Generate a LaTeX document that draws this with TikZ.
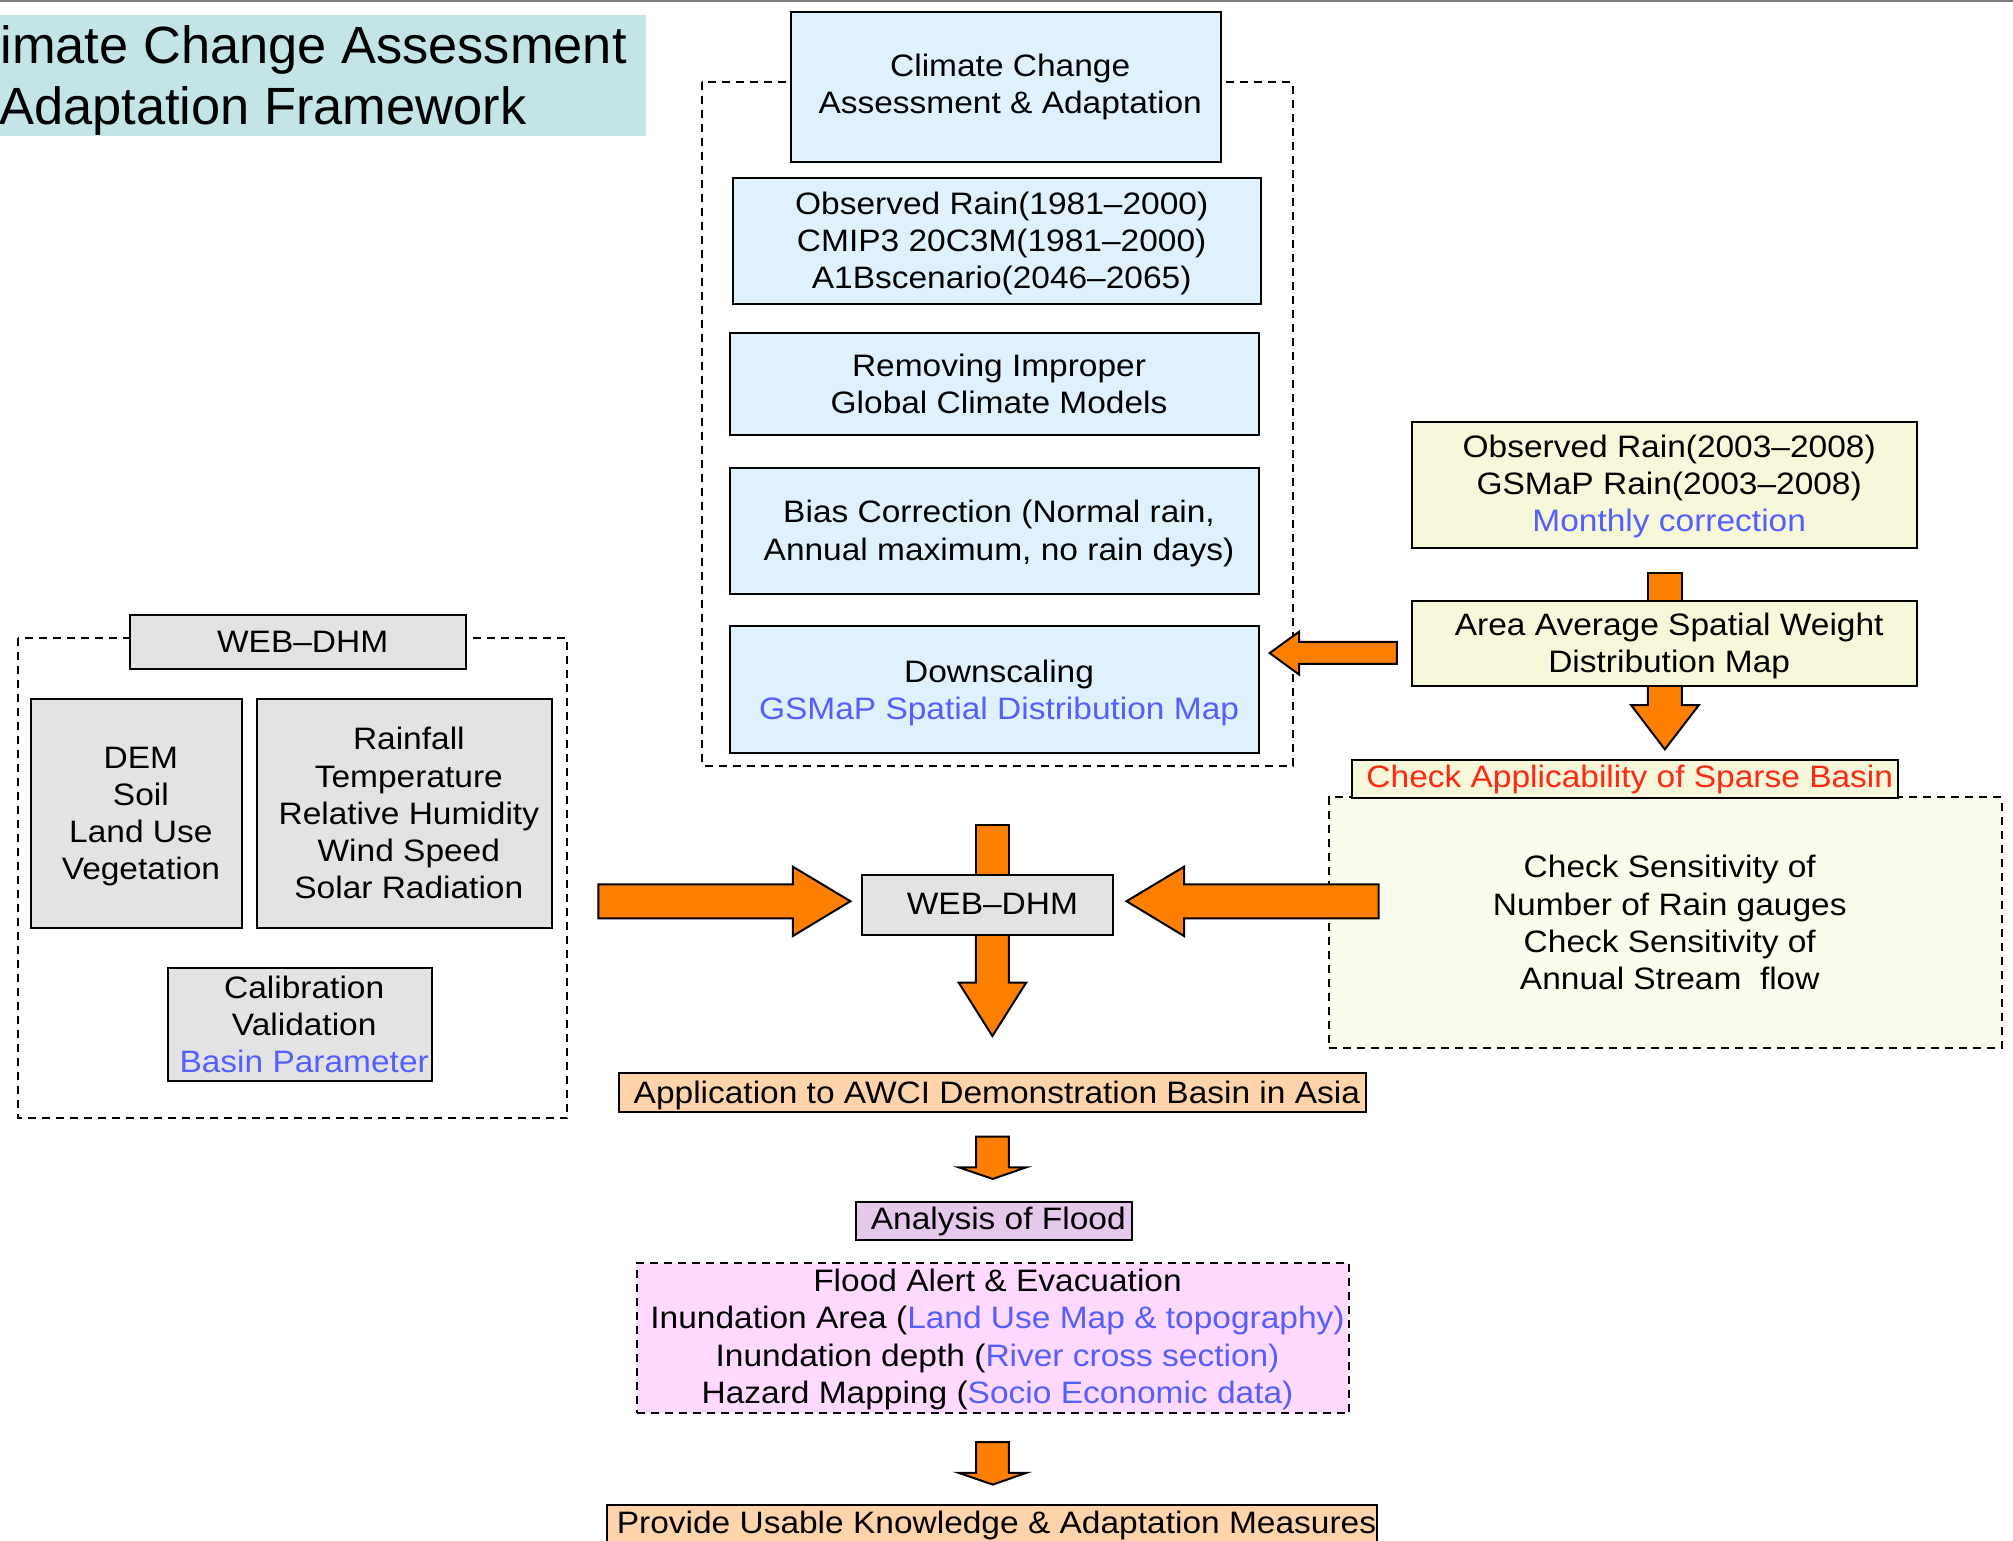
\documentclass[tikz,border=0pt]{standalone}
\usepackage{fontspec}
\setmainfont[FakeStretch=1.08]{Liberation Sans}
\newfontfamily\titlefont{Liberation Sans}
\definecolor{titlebg}{RGB}{196,229,232}
\definecolor{bluebox}{RGB}{223,241,252}
\definecolor{yellowbox}{RGB}{247,247,217}
\definecolor{paleyellow}{RGB}{252,252,236}
\definecolor{graybox}{RGB}{227,227,227}
\definecolor{orangeA}{RGB}{255,128,0}
\definecolor{peach}{RGB}{255,212,170}
\definecolor{lavender}{RGB}{230,200,236}
\definecolor{pinkbox}{RGB}{255,217,255}
\definecolor{bluetext}{RGB}{85,95,255}
\definecolor{redtext}{RGB}{255,40,20}
\newcommand\uu{0.6419pt}
\newcommand\bodyfont{\fontsize{15.5}{18.6}\selectfont}
\tikzset{
  bx/.style={draw=black, line width=1pt, inner sep=0pt},
  tx/.style={inner sep=0pt, align=center, font=\bodyfont, xshift=3.5*\uu},
  dashframe/.style={draw=black, line width=1pt, dash pattern=on 4pt off 3pt},
  blockarrow/.style={fill=orangeA, draw=black, line width=1pt, line join=miter},
}
\begin{document}
\begin{tikzpicture}[x=0.6419pt,y=-0.6419pt]
\useasboundingbox (0,0) rectangle (1568,1200);
\clip (0,0) rectangle (1568,1200);
\fill[white] (0,0) rectangle (1568,1200);
\draw[gray, line width=1.2pt] (0,1) -- (1568,1);

% title
\fill[titlebg] (0,11.7) rectangle (503,105.7);
\node[anchor=base east, inner sep=0pt, font=\titlefont\fontsize{26.2}{30}\selectfont] (t1) at (488.5,49.3) {imate Change Assessment};
\node[anchor=base east, inner sep=0pt, font=\titlefont\fontsize{26.2}{30}\selectfont] (t2) at (410.3,96.6) {Adaptation Framework};

% dashed frames
\draw[dashframe] (547,64.1) rectangle (1007.1,596.4);
\draw[dashframe] (14,497.2) rectangle (442,871.1);
\node[bx, dashframe, fill=paleyellow, minimum width=524.1*\uu, minimum height=195*\uu] (sens) at (1297.15,718.6) {};
\node[tx] (sens-t) at (sens) {Check Sensitivity of\\Number of Rain gauges\\Check Sensitivity of\\Annual Stream\ \ flow};

% block arrows
\draw[blockarrow] (1088,500) -- (1012,500) -- (1012,492) -- (989,508.7) -- (1012,525.5) -- (1012,517.2) -- (1088,517.2) -- cycle;
\draw[blockarrow] (1283.6,446) rectangle (1310,469);
\draw[blockarrow] (1283.6,533) -- (1283.6,549.2) -- (1270.5,549.2) -- (1296.8,583.7) -- (1323.3,549.2) -- (1310,549.2) -- (1310,533) -- cycle;
\draw[blockarrow] (760.2,642.6) rectangle (785.9,683);
\draw[blockarrow] (466,688.8) -- (617.6,688.8) -- (617.6,675.1) -- (662.4,702) -- (617.6,729.1) -- (617.6,715.3) -- (466,715.3) -- cycle;
\draw[blockarrow] (1073.9,688.8) -- (922.3,688.8) -- (922.3,675.1) -- (877.5,702) -- (922.3,729.1) -- (922.3,715.3) -- (1073.9,715.3) -- cycle;
\draw[blockarrow] (760.2,727) -- (760.2,765.4) -- (746.8,765.4) -- (773,807) -- (799.3,765.4) -- (785.9,765.4) -- (785.9,727) -- cycle;
\draw[blockarrow] (760.3,885.4) -- (760.3,909.3) -- (746.9,909.3) -- (773.3,918.3) -- (799.3,909.3) -- (785.9,909.3) -- (785.9,885.4) -- cycle;
\draw[blockarrow] (760.3,1123.4) -- (760.3,1147.3) -- (746.9,1147.3) -- (773.3,1156.4) -- (799.3,1147.3) -- (785.9,1147.3) -- (785.9,1123.4) -- cycle;

% centre column
\node[bx, fill=bluebox, minimum width=334.8*\uu, minimum height=116.4*\uu] (cca) at (783.4,67.8) {};
\node[tx] (cca-t) at (cca) {Climate Change\\Assessment \& Adaptation};
\node[bx, fill=bluebox, minimum width=411.7*\uu, minimum height=97.9*\uu] (obs) at (776.75,187.85) {};
\node[tx, yshift=-2*\uu] (obs-t) at (obs) {Observed Rain(1981–2000)\\CMIP3 20C3M(1981–2000)\\A1Bscenario(2046–2065)};
\node[bx, fill=bluebox, minimum width=412.7*\uu, minimum height=79.2*\uu] (rem) at (774.7,299.2) {};
\node[tx] (rem-t) at (rem) {Removing Improper\\Global Climate Models};
\node[bx, fill=bluebox, minimum width=412.7*\uu, minimum height=98.4*\uu] (bias) at (774.7,413.5) {};
\node[tx, yshift=-2*\uu] (bias-t) at (bias) {Bias Correction (Normal rain,\\Annual maximum, no rain days)};
\node[bx, fill=bluebox, minimum width=412.7*\uu, minimum height=98.7*\uu] (down) at (774.7,537) {};
\node[tx, yshift=-2.5*\uu] (down-t) at (down) {Downscaling\\\textcolor{bluetext}{GSMaP Spatial Distribution Map}};

% right column
\node[bx, fill=yellowbox, minimum width=393.2*\uu, minimum height=98*\uu] (obs2) at (1296.7,378) {};
\node[tx, yshift=-1*\uu] (obs2-t) at (obs2) {Observed Rain(2003–2008)\\GSMaP Rain(2003–2008)\\\textcolor{bluetext}{Monthly correction}};
\node[bx, fill=yellowbox, minimum width=393.2*\uu, minimum height=66*\uu] (area) at (1296.7,501.4) {};
\node[tx, yshift=-1.5*\uu] (area-t) at (area) {Area Average Spatial Weight\\Distribution Map};
\node[bx, fill=yellowbox, minimum width=425.1*\uu, minimum height=29.8*\uu] (check) at (1266,606.9) {};
\node[tx, text=redtext] (check-t) at (check) {Check Applicability of Sparse Basin};

% left group
\node[bx, fill=graybox, minimum width=261.7*\uu, minimum height=42.1*\uu] (webL) at (232.25,500) {};
\node[tx] (webL-t) at (webL) {WEB–DHM};
\node[bx, fill=graybox, minimum width=164.9*\uu, minimum height=178.1*\uu] (dem) at (106.25,633.5) {};
\node[tx, yshift=-2.5*\uu] (dem-t) at (dem) {DEM\\Soil\\Land Use\\Vegetation};
\node[bx, fill=graybox, minimum width=229.3*\uu, minimum height=178.1*\uu] (rainf) at (314.95,633.5) {};
\node[tx] (rainf-t) at (rainf) {Rainfall\\Temperature\\Relative Humidity\\Wind Speed\\Solar Radiation};
\node[bx, fill=graybox, minimum width=205.7*\uu, minimum height=87.5*\uu] (calib) at (233.45,798) {};
\node[tx] (calib-t) at (calib) {Calibration\\Validation\\\textcolor{bluetext}{Basin Parameter}};

% lower centre
\node[bx, fill=graybox, minimum width=195.5*\uu, minimum height=46.7*\uu] (web) at (769.5,704.9) {};
\node[tx, yshift=0.5*\uu] (web-t) at (web) {WEB–DHM};
\node[bx, fill=peach, minimum width=581.4*\uu, minimum height=30*\uu] (app) at (773,851) {};
\node[tx, yshift=-2*\uu] (app-t) at (app) {Application to AWCI Demonstration Basin in Asia};
\node[bx, fill=lavender, minimum width=214.8*\uu, minimum height=29.6*\uu] (ana) at (774.1,950.8) {};
\node[tx, yshift=-1*\uu] (ana-t) at (ana) {Analysis of Flood};
\node[bx, dashframe, fill=pinkbox, minimum width=555*\uu, minimum height=116.8*\uu] (flood) at (773.5,1042.4) {};
\node[tx, yshift=-1*\uu] (flood-t) at (flood)
  {Flood Alert \& Evacuation\\
   Inundation Area (\textcolor{bluetext}{Land Use Map \& topography)}\\
   Inundation depth (\textcolor{bluetext}{River cross section)}\\
   Hazard Mapping (\textcolor{bluetext}{Socio Economic data)}};
\node[bx, fill=peach, minimum width=599.8*\uu, minimum height=29*\uu] (prov) at (772.7,1186.5) {};
\node[tx, yshift=-2*\uu] (prov-t) at (prov) {Provide Usable Knowledge \& Adaptation Measures};
\end{tikzpicture}
\end{document}
